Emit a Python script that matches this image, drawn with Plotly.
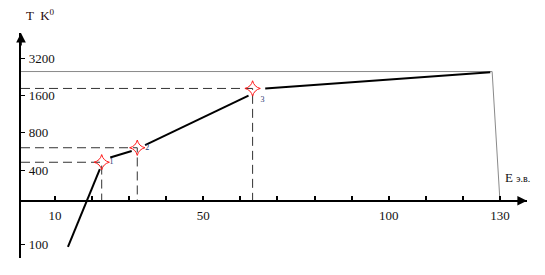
import math
import plotly.graph_objects as go

# ---------------- data ----------------
x_tick_vals = [10, 20, 30, 40, 50, 60, 70, 80, 90, 100, 110, 120, 130]
x_tick_text = ["10", "", "", "", "50", "", "", "", "", "100", "", "", "130"]
y_tick_vals = [100, 400, 800, 1600, 3200]
y_tick_text = ["100", "400", "800", "1600", "3200"]

# thick curve segments (E, T)
seg_E = [[13.5, 22.1], [24.9, 30.7], [34.3, 62.2], [66.7, 127.4]]
seg_T = [[96, 407], [504, 569], [636, 1590], [1819, 2453]]

# marked points
point_E = [22.6, 32.2, 63.3]
point_T = [462, 605, 1819]
point_labels = ["1", "2", "3"]

# thin limit line
limit_E = [127.9, 130]
limit_T = [2490, 226]

# axis geometry
E_MIN, E_MAX = 0.84, 137.3
T_MIN, T_MAX = 78.1, 5093
T_AXIS = 226

W, H = 545, 275
ML, MR, MT, MB = 21, 18, 33, 17
PW, PH = W - ML - MR, H - MT - MB

FONT = "Liberation Serif, Times New Roman, serif"

fig = go.Figure()

# thin limit line (horizontal + vertical)
fig.add_trace(go.Scatter(x=[E_MIN] + limit_E, y=[limit_T[0]] + limit_T, mode="lines",
                         line=dict(color="#8a8a8a", width=1), hoverinfo="skip"))

# dashed guide lines
for e, t in zip(point_E, point_T):
    fig.add_trace(go.Scatter(x=[E_MIN, e, e], y=[t, t, T_AXIS], mode="lines",
                             line=dict(color="#333333", width=1, dash="9px,5px"),
                             hoverinfo="skip"))

# thick curve segments
for xs, ys in zip(seg_E, seg_T):
    fig.add_trace(go.Scatter(x=xs, y=ys, mode="lines",
                             line=dict(color="black", width=2), hoverinfo="skip"))

# markers
fig.add_trace(go.Scatter(x=point_E, y=point_T, mode="markers+text",
                         marker=dict(symbol="star-diamond-open", size=11,
                                     color="#ff1a1a", line=dict(width=1)),
                         text=point_labels,
                         textposition=["middle right", "middle right", "bottom right"],
                         textfont=dict(family=FONT, size=8, color="#1f3570"),
                         hoverinfo="skip"))

lr = [math.log10(T_MIN), math.log10(T_MAX)]
x_axis_pos = (math.log10(T_AXIS) - lr[0]) / (lr[1] - lr[0])

fig.update_layout(
    width=W, height=H,
    margin=dict(l=ML, r=MR, t=MT, b=MB),
    paper_bgcolor="white", plot_bgcolor="white",
    showlegend=False,
    font=dict(family=FONT, size=13, color="#111111"),
    xaxis=dict(range=[E_MIN, E_MAX], anchor="free", position=x_axis_pos,
               showgrid=False, zeroline=False, showline=True, linecolor="black", linewidth=2,
               ticks="inside", ticklen=4, tickwidth=1.5, tickcolor="black",
               ticklabelstandoff=3,
               tickvals=x_tick_vals, ticktext=x_tick_text,
               tickfont=dict(family=FONT, size=13, color="#111111")),
    yaxis=dict(type="log", range=lr, domain=[0, 1],
               showgrid=False, zeroline=False, showline=True, linecolor="black", linewidth=2,
               ticks="inside", ticklen=4, tickwidth=1.2, tickcolor="black",
               ticklabelposition="inside",
               tickvals=y_tick_vals, ticktext=["\u00a0" + t for t in y_tick_text],
               tickfont=dict(family=FONT, size=13, color="#111111")),
)

# axis arrows
fig.add_annotation(x=1, y=x_axis_pos, xref="paper", yref="paper", text="",
                   showarrow=True, ax=-14, ay=0, arrowhead=2, arrowsize=1.2,
                   arrowwidth=1.6, arrowcolor="black")
fig.add_annotation(x=0, y=1, xref="paper", yref="paper", text="",
                   showarrow=True, ax=0, ay=14, arrowhead=2, arrowsize=1.2,
                   arrowwidth=1.6, arrowcolor="black")

# axis titles
fig.add_annotation(x=(24 - ML) / PW, y=1 + (MT - 15) / PH, xref="paper", yref="paper",
                   text="T  K<sup>0</sup>", showarrow=False, xanchor="left", yanchor="middle",
                   font=dict(family=FONT, size=13, color="#2a0a0a"))
fig.add_annotation(x=(503 - ML) / PW, y=(H - MB - 178) / PH, xref="paper", yref="paper",
                   text="E <span style='font-size:10px'>э.в.</span>", showarrow=False,
                   xanchor="left", yanchor="middle",
                   font=dict(family=FONT, size=13, color="#111111"))

fig.write_html("out.html")
